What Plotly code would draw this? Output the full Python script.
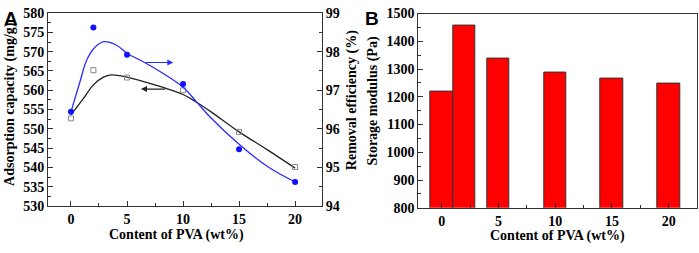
import plotly.graph_objects as go

# ---------------- data ----------------
pva = [0, 2, 5, 10, 15, 20]
adsorption = [552.7, 565.2, 563.3, 560.0, 549.2, 540.1]        # mg/g (left axis, A)
removal = [96.44, 98.63, 97.92, 97.16, 95.47, 94.62]           # % (right axis, A)
storage = [1220, 1458, 1338, 1287, 1266, 1246]                 # Pa (B)

# fitted curves
fit_ads_x = [0, 1.1, 2, 2.9, 3.6, 5, 7, 10, 11.2, 12.5, 15, 17.5, 20]
fit_ads_y = [553.6, 557.8, 561.4, 563.4, 564.0, 563.4, 561.8, 558.9, 556.9, 554.4, 549.2, 544.6, 539.8]
fit_rem_x = [0, 0.8, 1.4, 2.1, 2.9, 4, 5, 7, 10, 11.2, 12.5, 15, 17.5, 20]
fit_rem_y = [96.44, 97.22, 97.78, 98.10, 98.26, 98.18, 97.96, 97.65, 97.08, 96.70, 96.28, 95.60, 95.03, 94.62]

x_ticks = [0, 5, 10, 15, 20]
x_title = "Content of PVA (wt%)"

W, H = 699, 253
FONT = "Liberation Serif, Times New Roman, serif"
AX = "#333333"

fig = go.Figure()

fig.add_trace(go.Scatter(x=fit_ads_x, y=fit_ads_y, mode="lines",
                         line=dict(color="#222222", width=1.3, shape="spline", smoothing=1.0),
                         xaxis="x", yaxis="y", showlegend=False, hoverinfo="skip"))
fig.add_trace(go.Scatter(x=pva, y=adsorption, mode="markers",
                         marker=dict(symbol="square-open", size=5, color="#888888", line=dict(width=1)),
                         xaxis="x", yaxis="y", showlegend=False))
fig.add_trace(go.Scatter(x=fit_rem_x, y=fit_rem_y, mode="lines",
                         line=dict(color="#2b2bff", width=1.3, shape="spline", smoothing=1.0),
                         xaxis="x", yaxis="y2", showlegend=False, hoverinfo="skip"))
fig.add_trace(go.Scatter(x=pva, y=removal, mode="markers",
                         marker=dict(symbol="circle", size=6, color="#1010ff"),
                         xaxis="x", yaxis="y2", showlegend=False))

fig.add_trace(go.Bar(x=pva, y=storage, width=2,
                     marker=dict(color="#ff0000", line=dict(color="#333333", width=1)),
                     xaxis="x2", yaxis="y3", showlegend=False))

tickfont = dict(family=FONT, size=14, color="black", weight="bold")

def px_x(p):
    return p / W

def px_y(p):
    return 1 - p / H

common = dict(showline=True, linecolor=AX, linewidth=1, ticks="inside", ticklen=5,
              tickcolor=AX, tickwidth=1, tickfont=tickfont, showgrid=False, zeroline=False,
              ticklabeloverflow="allow")

fig.update_layout(
    width=W, height=H, margin=dict(l=0, r=0, t=0, b=0),
    paper_bgcolor="white", plot_bgcolor="white",
    xaxis=dict(domain=[px_x(48), px_x(322)], range=[-2.05, 22.4], tickvals=x_ticks,
               anchor="y", mirror=True,
               minor=dict(ticks="inside", ticklen=3, tickcolor=AX, dtick=2.5, tick0=0), **common),
    yaxis=dict(domain=[px_y(211.5), px_y(6.5)], range=[530, 580], dtick=5, anchor="x",
               minor=dict(ticks="inside", ticklen=3, tickcolor=AX, dtick=2.5, tick0=0), **common),
    yaxis2=dict(domain=[px_y(211.5), px_y(6.5)], range=[94, 99], dtick=1, overlaying="y",
                side="right", anchor="x",
                minor=dict(ticks="inside", ticklen=3, tickcolor=AX, dtick=0.5, tick0=0), **common),
    xaxis2=dict(domain=[px_x(418.3), px_x(696.7)], range=[-2.06, 22.47], tickvals=x_ticks,
                anchor="y3", mirror=True,
                minor=dict(ticks="inside", ticklen=3, tickcolor=AX, dtick=2.5, tick0=0), **common),
    yaxis3=dict(domain=[px_y(213.5), px_y(7)], range=[800, 1500], dtick=100, anchor="x2",
                mirror=True,
                minor=dict(ticks="inside", ticklen=3, tickcolor=AX, dtick=50, tick0=0), **common),
    bargap=0,
)

titlefont = dict(family=FONT, size=14, color="black", weight="bold")
ann = []
# axis titles
ann.append(dict(text=x_title, x=px_x(176), y=px_y(242), xref="paper", yref="paper",
                showarrow=False, font=titlefont, xanchor="center", yanchor="middle"))
ann.append(dict(text=x_title, x=px_x(557), y=px_y(243.5), xref="paper", yref="paper",
                showarrow=False, font=titlefont, xanchor="center", yanchor="middle"))
ann.append(dict(text="Adsorption capacity (mg/g)", x=px_x(10), y=px_y(103), xref="paper",
                yref="paper", showarrow=False, font=titlefont, textangle=-90,
                xanchor="center", yanchor="middle"))
ann.append(dict(text="Removal efficiency (%)", x=px_x(352), y=px_y(99), xref="paper",
                yref="paper", showarrow=False, font=titlefont, textangle=-90,
                xanchor="center", yanchor="middle"))
ann.append(dict(text="Storage modulus (Pa)", x=px_x(373.5), y=px_y(100), xref="paper",
                yref="paper", showarrow=False, font=titlefont, textangle=-90,
                xanchor="center", yanchor="middle"))
# panel labels
panelfont = dict(family="Liberation Sans, Arial, sans-serif", size=19, color="black", weight="bold")
ann.append(dict(text="A", x=px_x(11), y=px_y(12), xref="paper", yref="paper",
                showarrow=False, font=panelfont, xanchor="center", yanchor="middle"))
ann.append(dict(text="B", x=px_x(371.5), y=px_y(12), xref="paper", yref="paper",
                showarrow=False, font=panelfont, xanchor="center", yanchor="middle"))
# arrows
ann.append(dict(text="", x=9.13, y=567.2, ax=6.54, ay=567.2, xref="x", yref="y",
                axref="x", ayref="y", showarrow=True, arrowhead=2, arrowsize=1,
                arrowwidth=1.2, arrowcolor="#2b2bff"))
ann.append(dict(text="", x=6.25, y=560.3, ax=8.54, ay=560.3, xref="x", yref="y",
                axref="x", ayref="y", showarrow=True, arrowhead=2, arrowsize=1,
                arrowwidth=1.2, arrowcolor="#222222"))
fig.update_layout(annotations=ann)

fig.write_html("out.html", config={"displayModeBar": False},
               post_script="document.body.style.margin='0';")
